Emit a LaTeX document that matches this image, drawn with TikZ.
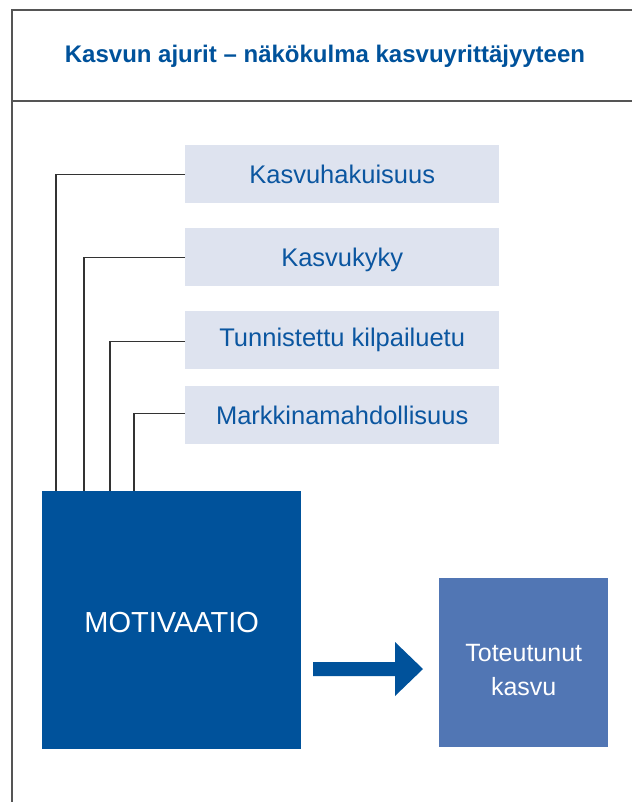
\documentclass[tikz,border=0pt]{standalone}
\usepackage{fontspec}
\setmainfont{Liberation Sans}
\definecolor{dblue}{HTML}{00529B}
\definecolor{tblue}{HTML}{0B56A0}
\definecolor{lbox}{HTML}{DEE3EF}
\definecolor{mblue}{HTML}{5176B4}
\definecolor{frame}{HTML}{555555}
\definecolor{conn}{HTML}{333333}
\tikzset{
  factor/.style={fill=lbox, draw=none, minimum width=314pt, minimum height=58pt, inner sep=0pt, anchor=north west, text=tblue, font=\fontsize{25.5}{30}\selectfont},
  conline/.style={draw=conn, line width=1.1pt},
  frameline/.style={draw=frame, line width=1.5pt},
}
\begin{document}
\begin{tikzpicture}[x=1pt,y=-1pt]
\useasboundingbox (0,0) rectangle (632,802);
% frame
\draw[frameline] (632,10) -- (12,10) -- (12,802);
\draw[frameline] (12,101) -- (632,101);
\node[text=dblue, font=\bfseries\fontsize{24}{28}\selectfont] (title) at (325,56) {Kasvun ajurit – näkökulma kasvuyrittäjyyteen};
% factor boxes
\node[factor] (b1) at (185,145) {Kasvuhakuisuus};
\node[factor] (b2) at (185,228) {};
\node[text=tblue, font=\fontsize{25.5}{30}\selectfont, inner sep=0pt] (b2t) at ([yshift=-2.5pt]b2.center) {Kasvukyky};
\node[factor] (b3) at (185,311) {Tunnistettu kilpailuetu};
\node[factor] (b4) at (185,386) {Markkinamahdollisuus};
% motivation box
\node[fill=dblue, minimum width=259pt, minimum height=258pt, inner sep=0pt, anchor=north west] (m) at (42,491) {};
\node[text=white, font=\fontsize{29}{34}\selectfont, inner sep=0pt] (mt) at ([yshift=-2.5pt]m.center) {MOTIVAATIO};
% result box
\node[fill=mblue, minimum width=169pt, minimum height=169pt, inner sep=0pt, anchor=north west] (t) at (439,578) {};
\node[text=white, align=center, font=\fontsize{25}{34}\selectfont, inner sep=0pt] (tt) at ([yshift=-7pt]t.center) {Toteutunut\\kasvu};
% connectors
\coordinate (c1) at (56,491);
\coordinate (c2) at (84,491);
\coordinate (c3) at (110,491);
\coordinate (c4) at (134,491);
\draw[conline] (b1.west) -| (c1);
\draw[conline] (b2.west) -| (c2);
\draw[conline] ([yshift=-1.5pt]b3.west) -| (c3);
\draw[conline] ([yshift=2pt]b4.west) -| (c4);
% arrow
\fill[dblue] (313,662) -- (395,662) -- (395,642) -- (423,669) -- (395,696) -- (395,676) -- (313,676) -- cycle;
\end{tikzpicture}
\end{document}
